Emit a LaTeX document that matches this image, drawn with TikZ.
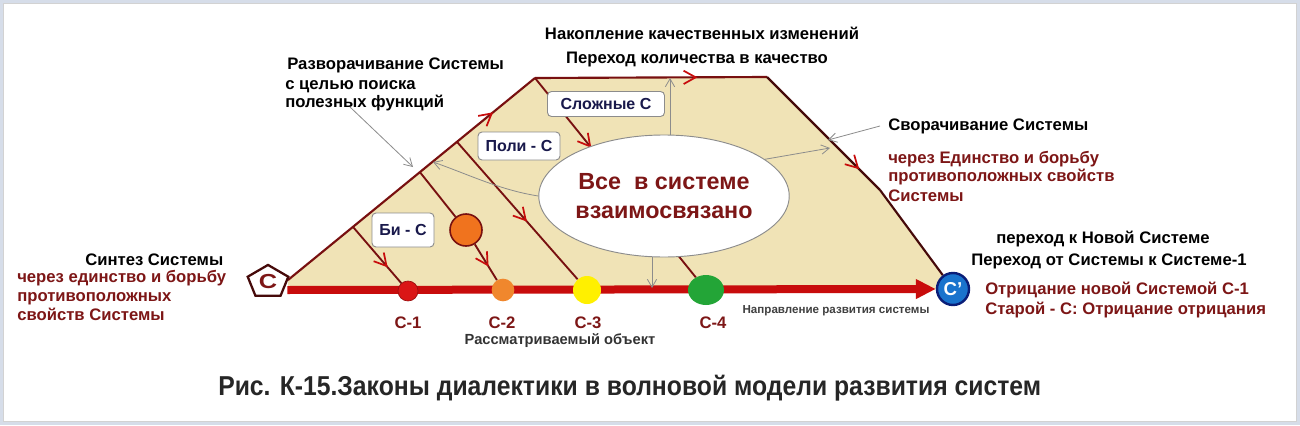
\documentclass[tikz,border=0pt]{standalone}
\usepackage{fontspec}
\setmainfont{Liberation Sans}
\newfontfamily\capfont[FakeStretch=0.905]{Liberation Sans}
\usetikzlibrary{arrows.meta,decorations.markings,shapes.geometric,calc}
\definecolor{framec}{RGB}{214,221,233}
\definecolor{beige}{RGB}{240,227,182}
\definecolor{edgec}{RGB}{120,16,16}
\definecolor{edgedk}{RGB}{70,10,10}
\definecolor{dred}{RGB}{125,22,22}
\definecolor{bred}{RGB}{200,12,12}
\definecolor{navy}{RGB}{25,25,75}
\definecolor{cI}{RGB}{218,22,22}
\definecolor{cII}{RGB}{240,135,45}
\definecolor{cIIb}{RGB}{240,115,30}
\definecolor{cIII}{RGB}{255,240,0}
\definecolor{cIV}{RGB}{35,165,55}
\definecolor{cblue}{RGB}{25,115,205}
\definecolor{cbluedk}{RGB}{10,30,120}
\definecolor{graya}{RGB}{140,140,140}
\pgfdeclarelayer{bg}
\pgfdeclarelayer{frame}
\pgfsetlayers{frame,bg,main}
\begin{document}
\begin{tikzpicture}[x=0.75pt,y=-0.75pt,
  lbl/.style={font=\fontsize{12.5}{15}\selectfont\bfseries, inner sep=0pt, text=black},
  rlbl/.style={lbl, text=dred},
  box/.style={draw=graya, fill=white, rounded corners=3pt, line width=0.7pt,
    font=\fontsize{12}{14}\selectfont\bfseries, text=navy, inner sep=0pt},
  dot/.style={circle, inner sep=0pt},
  inner/.style={draw=edgec, line width=1.4pt},
  edgeline/.style={draw=edgec, line width=1.6pt},
  edgedark/.style={draw=edgedk, line width=1.6pt},
  midarrow/.style={postaction={decorate}, decoration={markings,
    mark=at position #1 with {\arrow[bred, line width=1.3pt]{Straight Barb[length=9pt,width=10pt]}}}},
  garrow/.style={draw=graya, line width=0.6pt, -{Straight Barb[length=6pt,width=7pt]}},
  base/.style={draw=bred, line width=6pt, -{Triangle[length=15pt,width=14pt]}},
  clbl/.style={font=\fontsize{12.5}{15}\selectfont\bfseries, text=dred, inner sep=0pt}
]
\useasboundingbox (0,0) rectangle (1300,425);
\begin{pgfonlayer}{frame}
\fill[framec] (0,0) rectangle (1300,425);
\fill[white] (3,3) rectangle (1296,421);
\draw[gray!35, line width=0.5pt] (3,3) rectangle (1296,421);
\end{pgfonlayer}

% key points of the outline
\coordinate (A) at (288,280);
\coordinate (B) at (535,78);
\coordinate (T) at (767,77);
\coordinate (D) at (880,190);

% nodes
\node[regular polygon, regular polygon sides=5, draw=edgedk, fill=white, line width=1.7pt,
  minimum size=32pt, inner sep=0pt, yscale=0.8, font=\fontsize{19}{21}\selectfont\bfseries, text=dred] (P) at (268,282) {С};
\node[dot, fill=cblue, draw=cbluedk, line width=1.8pt, minimum size=24pt,
  font=\fontsize{14}{16}\selectfont\bfseries, text=white] (Cp) at (953,289) {С'};
\node[dot, fill=cI, draw=cI!70!black, line width=0.5pt, minimum size=15pt] (C1) at (408,291) {};
\node[dot, fill=cII, minimum size=17pt] (C2) at (503,290) {};
\node[dot, fill=cIII, minimum size=21pt] (C3) at (587,290) {};
\node[ellipse, fill=cIV, minimum width=27pt, minimum height=22.5pt, inner sep=0pt] (C4) at (706,290) {};
\node[dot, fill=cIIb, draw=edgec, line width=1.2pt, minimum size=24pt] (O) at (466,230) {};
\node[ellipse, draw=graya, fill=white, line width=0.7pt, minimum width=181.5pt, minimum height=91.5pt,
  align=center, font=\fontsize{17.5}{22}\selectfont\bfseries, text=dred, inner sep=0pt] (Ell) at (664,196)
  {Все\ \ в системе\\взаимосвязано};

\node[box, minimum width=87.75pt, minimum height=18.75pt] (BS) at (606,104) {Сложные С};
\node[box, minimum width=61.5pt, minimum height=21pt] (BP) at (519,146) {Поли - С};
\node[box, minimum width=46.5pt, minimum height=25.5pt] (BB) at (403,230) {Би - С};

\coordinate (L1) at ($(A)!0.263!(B)$);
\coordinate (L2) at ($(A)!0.534!(B)$);
\coordinate (L3) at ($(A)!0.684!(B)$);

\begin{pgfonlayer}{bg}
  \fill[beige] (288,290) -- (A) -- (B) -- (T) -- (D) -- (Cp.center) -- cycle;
  \draw[inner, midarrow=0.72] (L1) -- (C1);
  \draw[inner] (L2) -- (O);
  \draw[inner, midarrow=0.62] (O) -- (C2);
  \draw[inner, midarrow=0.58] (L3) -- (C3);
  \draw[inner, midarrow=0.35] (B) -- (C4);
  \draw[edgeline, midarrow=0.83] (A) -- (B);
  \draw[edgeline, midarrow=0.7] (B) -- (T);
  \draw[edgedark, midarrow=0.82] (T) -- (D);
  \draw[edgedark] (D) -- (Cp);
  \draw[base] ($(P.east)+(0,8)$) -- (Cp.west);
\end{pgfonlayer}

% thin grey arrows
\coordinate (gA) at (350,107);
\coordinate (gAt) at (413,167);
\draw[garrow] (gA) -- (gAt);
\coordinate (gB) at (433,162);
\draw[garrow] (Ell.west) .. controls (500,190) and (470,175) .. (gB);
\coordinate (gC) at (670,78);
\draw[garrow] (Ell.north -| gC) -- (gC);
\coordinate (gD) at (830,148);
\draw[garrow] (Ell.20) -- (gD);
\coordinate (gE) at (880,126);
\coordinate (gEt) at (828,140);
\draw[garrow] (gE) -- (gEt);
\coordinate (gF) at (652,288);
\draw[garrow] (Ell.south -| gF) -- (gF);

% labels
\node[lbl, anchor=base west] (t1) at (85,265) {Синтез Системы};
\node[rlbl, anchor=base west] (t2) at (17,282) {через единство и борьбу};
\node[rlbl, anchor=base west] (t3) at (17,301) {противоположных};
\node[rlbl, anchor=base west] (t4) at (17,320) {свойств Системы};

\node[lbl, anchor=base] (t5) at (702,39) {Накопление качественных изменений};
\node[lbl, anchor=base] (t6) at (697,63) {Переход количества в качество};

\node[lbl, anchor=base west] (t7) at (287,69) {Разворачивание Системы};
\node[lbl, anchor=base west] (t8) at (285,89) {с целью поиска};
\node[lbl, anchor=base west] (t9) at (285,107) {полезных функций};

\node[lbl, anchor=base west] (t10) at (888,130) {Сворачивание Системы};
\node[rlbl, anchor=base west] (t11) at (888,163) {через Единство и борьбу};
\node[rlbl, anchor=base west] (t12) at (888,181) {противоположных свойств};
\node[rlbl, anchor=base west] (t13) at (888,201) {Системы};

\node[lbl, anchor=base] (t14) at (1103,243) {переход к Новой Системе};
\node[lbl, anchor=base] (t15) at (1109,265) {Переход от Системы к Системе-1};
\node[rlbl, anchor=base west] (t16) at (985,294) {Отрицание новой Системой С-1};
\node[rlbl, anchor=base west] (t17) at (985,314) {Старой - С: Отрицание отрицания};

\node[clbl, anchor=base] (k1) at (408,328) {С-1};
\node[clbl, anchor=base] (k2) at (502,328) {С-2};
\node[clbl, anchor=base] (k3) at (588,328) {С-3};
\node[clbl, anchor=base] (k4) at (713,328) {С-4};
\node[lbl, anchor=base, font=\fontsize{11}{13}\selectfont\bfseries, text=black!80] (t18) at (560,344) {Рассматриваемый объект};
\node[lbl, anchor=base, font=\fontsize{8.7}{10}\selectfont\bfseries, text=black!75] (t19) at (836,313) {Направление развития системы};

\node[anchor=base west, inner sep=0pt, font=\capfont\fontsize{20.5}{24}\selectfont\bfseries, text=black!85] (cap) at (218,395)
  {Рис. К-15.Законы диалектики в волновой модели развития систем};
\end{tikzpicture}
\end{document}
